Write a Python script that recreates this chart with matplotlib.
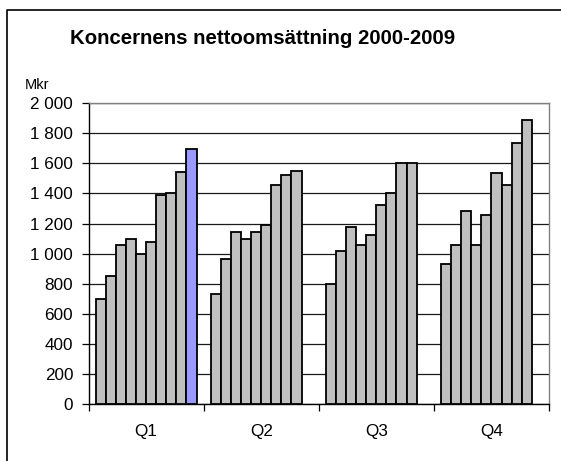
import matplotlib
matplotlib.use("Agg")
import matplotlib.pyplot as plt
import numpy as np
from matplotlib.lines import Line2D

plt.rcParams['font.family'] = ['Liberation Sans', 'DejaVu Sans']

# Data (Mkr), one value per year within each quarter
quarters = ['Q1', 'Q2', 'Q3', 'Q4']
years = list(range(2000, 2010))
q1 = [700, 850, 1055, 1095, 1000, 1075, 1390, 1400, 1540, 1695]
q2 = [730, 965, 1145, 1100, 1145, 1190, 1455, 1525, 1550]
q3 = [800, 1020, 1180, 1055, 1125, 1320, 1400, 1600, 1600]
q4 = [930, 1060, 1285, 1060, 1260, 1535, 1455, 1735, 1885]
yticks = [0, 200, 400, 600, 800, 1000, 1200, 1400, 1600, 1800, 2000]

fig = plt.figure(figsize=(5.61, 4.61), dpi=100)
ax = fig.add_axes([0.1578, 0.1226, 0.8208, 0.654])

w = 0.0876
n = len(years)
for qi, vals in enumerate([q1, q2, q3, q4]):
    for yi, v in enumerate(vals):
        color = '#9999FF' if years[yi] == 2009 else '#C0C0C0'
        ax.bar(qi + (yi - (n - 1) / 2) * w, v, width=w, color=color,
               edgecolor='black', linewidth=1.3, zorder=3)

ax.set_xlim(-0.5, 3.5)
ax.set_ylim(0, 2000)
ax.set_yticks(yticks)
ax.set_yticklabels([f'{t:,}'.replace(',', ' ') for t in yticks], fontsize=12.3)
ax.yaxis.grid(True, color='#1a1a1a', linewidth=0.9, zorder=0)
ax.tick_params(axis='y', direction='out', length=5, width=0.9, pad=6)

ax.set_xticks(np.arange(-0.5, 4, 1))
ax.set_xticklabels([])
ax.set_xticks(range(4), minor=True)
ax.set_xticklabels(quarters, minor=True, fontsize=12.3)
ax.tick_params(axis='x', which='major', direction='out', length=5, width=0.9)
ax.tick_params(axis='x', which='minor', length=0, pad=14)

ax.spines['left'].set_color('black')
ax.spines['bottom'].set_color('black')
ax.spines['top'].set_color('#808080')
ax.spines['right'].set_color('#808080')
for s in ax.spines.values():
    s.set_linewidth(1.0)

fig.text(263 / 561, 1 - 38 / 461, 'Koncernens nettoomsättning 2000-2009',
         ha='center', va='center', fontsize=14.7, fontweight='bold')
fig.text(25 / 561, 1 - 85 / 461, 'Mkr', ha='left', va='center', fontsize=10.5)

# outer chart frame (only top and left edges visible)
fig.add_artist(Line2D([7 / 561, 7 / 561, 1.0], [0.0, 1 - 10 / 461, 1 - 10 / 461],
                      transform=fig.transFigure, color='black', linewidth=1.2))

fig.savefig('out.png', dpi=100)
